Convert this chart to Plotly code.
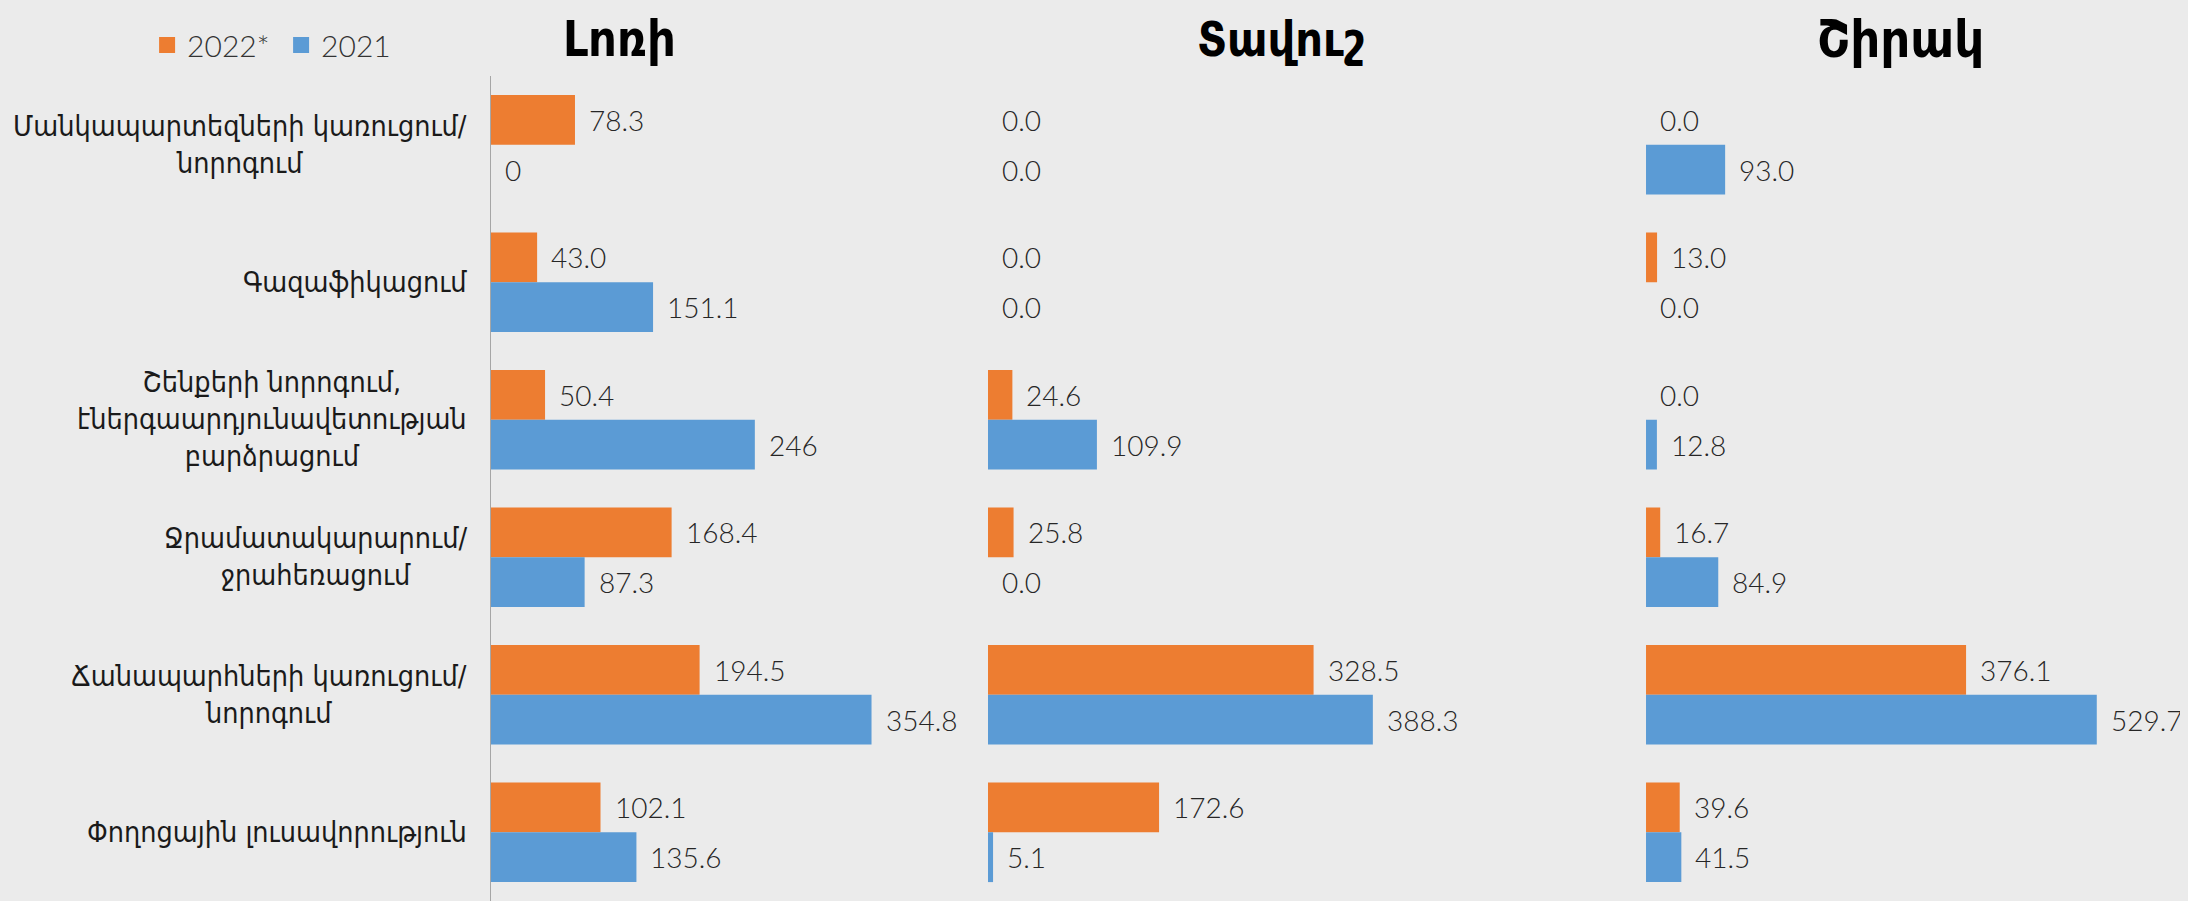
import plotly.graph_objects as go

categories = [
    "Մանկապարտեզների կառուցում/<br>նորոգում",
    "Գազաֆիկացում",
    "Շենքերի նորոգում,<br>էներգաարդյունավետության<br>բարձրացում",
    "Ջրամատակարարում/<br>ջրահեռացում",
    "Ճանապարհների կառուցում/<br>նորոգում",
    "Փողոցային լուսավորություն",
]
regions = ["Լոռի", "Տավուշ", "Շիրակ"]
series_names = ["2022*", "2021"]

lori_2022 = [78.3, 43.0, 50.4, 168.4, 194.5, 102.1]
lori_2021 = [0, 151.1, 246, 87.3, 354.8, 135.6]
tavush_2022 = [0.0, 0.0, 24.6, 25.8, 328.5, 172.6]
tavush_2021 = [0.0, 0.0, 109.9, 0.0, 388.3, 5.1]
shirak_2022 = [0.0, 13.0, 0.0, 16.7, 376.1, 39.6]
shirak_2021 = [93.0, 0.0, 12.8, 84.9, 529.7, 41.5]

lori_2022_labels = ["78.3", "43.0", "50.4", "168.4", "194.5", "102.1"]
lori_2021_labels = ["0", "151.1", "246", "87.3", "354.8", "135.6"]
tavush_2022_labels = ["0.0", "0.0", "24.6", "25.8", "328.5", "172.6"]
tavush_2021_labels = ["0.0", "0.0", "109.9", "0.0", "388.3", "5.1"]
shirak_2022_labels = ["0.0", "13.0", "0.0", "16.7", "376.1", "39.6"]
shirak_2021_labels = ["93.0", "0.0", "12.8", "84.9", "529.7", "41.5"]

panels = [
    (lori_2022, lori_2021, lori_2022_labels, lori_2021_labels),
    (tavush_2022, tavush_2021, tavush_2022_labels, tavush_2021_labels),
    (shirak_2022, shirak_2021, shirak_2022_labels, shirak_2021_labels),
]

ORANGE = "#ED7D31"
BLUE = "#5B9BD5"
BG = "#ebebeb"
NUM_FONT = dict(family="Lato, DejaVu Sans", size=28, color="#262626", weight=300)
CAT_FONT = dict(family="DejaVu Sans Condensed, DejaVu Sans", size=28.5, color="#1a1a1a")

# the page body adds an 8px offset; figure is sized to fit the window
W, H = 2180, 893
x_domains = [[0.22156, 0.41835], [0.44954, 0.65413], [0.75138, 0.98560]]
x_ranges = [[0, 400], [0, 450], [0, 600]]
title_x = [0.2807, 0.5839, 0.8683]
title_size = [50, 48, 52]

fig = go.Figure()
annotations = []

# legend entries (square markers like the reference legend)
for name, color in zip(series_names, [ORANGE, BLUE]):
    fig.add_trace(go.Scatter(
        x=[None], y=[None], mode="markers", name=name, legendgroup=name,
        marker=dict(symbol="square", size=16, color=color),
        xaxis="x", yaxis="y", showlegend=True, hoverinfo="skip",
    ))

for i, (v22, v21, t22, t21) in enumerate(panels):
    sfx = "" if i == 0 else str(i + 1)
    xa, ya = "x" + sfx, "y" + sfx
    for vals, labs, name, color, shift in [
        (v22, t22, series_names[0], ORANGE, 25),
        (v21, t21, series_names[1], BLUE, -25),
    ]:
        fig.add_trace(go.Bar(
            x=vals, y=categories, orientation="h", name=name,
            marker=dict(color=color, line=dict(width=0)),
            xaxis=xa, yaxis=ya, legendgroup=name, showlegend=False,
            hoverinfo="x+y",
        ))
        for v, lab, c in zip(vals, labs, categories):
            annotations.append(dict(
                x=v, y=c, xref=xa, yref=ya, text=lab, showarrow=False,
                xanchor="left", yanchor="middle", xshift=12, yshift=shift,
                font=NUM_FONT,
            ))
    annotations.append(dict(
        x=title_x[i], y=1.045, xref="paper", yref="paper", text="<b>" + regions[i] + "</b>",
        showarrow=False, xanchor="center", yanchor="middle",
        font=dict(family="DejaVu Sans Condensed, DejaVu Sans", size=title_size[i], color="#000000"),
    ))

for c in categories:
    annotations.append(dict(
        x=0.2115, y=c, xref="paper", yref="y", text=c, showarrow=False,
        xanchor="right", yanchor="middle", align="center", font=CAT_FONT,
    ))

layout = dict(
    width=W, height=H,
    margin=dict(l=0, r=0, t=68, b=0),
    paper_bgcolor=BG, plot_bgcolor=BG,
    barmode="group", bargap=0.275, bargroupgap=0,
    annotations=annotations,
    legend=dict(
        orientation="h", x=0.0638, y=1.0376, xanchor="left", yanchor="middle",
        font=dict(family="Lato, DejaVu Sans", size=30, color="#333333", weight=300),
        bgcolor="rgba(0,0,0,0)", traceorder="normal",
        entrywidth=89, entrywidthmode="pixels",
    ),
)
for i in range(3):
    sfx = "" if i == 0 else str(i + 1)
    layout["xaxis" + sfx] = dict(
        domain=x_domains[i], range=x_ranges[i], visible=False, fixedrange=True,
        anchor="y" + sfx,
    )
    layout["yaxis" + sfx] = dict(
        domain=[0, 1], range=[5.5, -0.5], type="category",
        showticklabels=False, ticks="", showgrid=False, zeroline=False,
        showline=(i == 0), linecolor="#a6a6a6", linewidth=1,
        anchor="x" + sfx, fixedrange=True,
    )
fig.update_layout(**layout)

fig.write_html("out.html", post_script="document.body.style.background='#ebebeb';")
